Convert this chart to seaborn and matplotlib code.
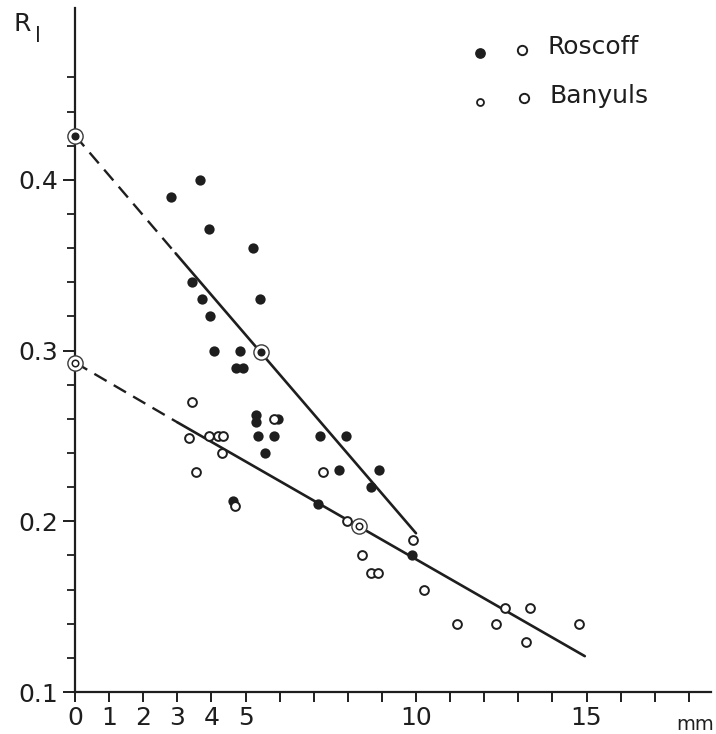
import matplotlib
matplotlib.use("Agg")
import matplotlib.pyplot as plt
import seaborn as sns
from matplotlib.ticker import FixedLocator, FixedFormatter

# ---------------- data ----------------
roscoff_x = [3.68, 2.82, 3.93, 5.21, 3.43, 3.73, 5.43, 3.95, 4.07, 4.85,
             4.72, 4.92, 5.31, 5.31, 5.94, 5.38, 5.84, 7.18, 7.95, 5.56,
             7.73, 8.92, 8.67, 4.64, 7.12, 9.88]
roscoff_y = [0.400, 0.390, 0.371, 0.360, 0.340, 0.330, 0.330, 0.320, 0.300, 0.300,
             0.290, 0.290, 0.262, 0.258, 0.260, 0.250, 0.250, 0.250, 0.250, 0.240,
             0.230, 0.230, 0.220, 0.212, 0.210, 0.180]

banyuls_x = [3.44, 5.84, 3.34, 3.92, 4.20, 4.35, 4.31, 3.56, 7.26, 4.70,
             7.97, 9.92, 8.43, 8.67, 8.90, 10.23, 12.62, 13.34, 11.21, 12.36,
             14.77, 13.24]
banyuls_y = [0.270, 0.260, 0.249, 0.250, 0.250, 0.250, 0.240, 0.229, 0.229, 0.209,
             0.200, 0.189, 0.180, 0.170, 0.170, 0.160, 0.149, 0.149, 0.140, 0.140,
             0.140, 0.129]

# circled reference points (intercept and mean of each group)
roscoff_ref_x = [0.0, 5.45]
roscoff_ref_y = [0.426, 0.299]
banyuls_ref_x = [0.0, 8.33]
banyuls_ref_y = [0.293, 0.197]

# fitted lines: first segment dashed (extrapolation), rest solid
roscoff_fit_x = [0.0, 2.95, 10.0]
roscoff_fit_y = [0.426, 0.357, 0.193]
banyuls_fit_x = [0.0, 3.0, 14.95]
banyuls_fit_y = [0.293, 0.258, 0.121]

x_tick_values = list(range(0, 19))
x_tick_labels = ["0", "1", "2", "3", "4", "5", "", "", "", "", "10",
                 "", "", "", "", "15", "", "", ""]
y_tick_values = [0.1, 0.2, 0.3, 0.4]
y_tick_labels = ["0.1", "0.2", "0.3", "0.4"]
y_minor_values = [0.12, 0.14, 0.16, 0.18, 0.22, 0.24, 0.26, 0.28,
                  0.32, 0.34, 0.36, 0.38, 0.42, 0.44, 0.46]

legend_labels = ["Roscoff", "Banyuls"]

# ---------------- style ----------------
sns.set_theme(style="ticks")
plt.rcParams['font.family'] = ['DejaVu Sans']
ink = "#1e1e1e"

fig = plt.figure(figsize=(7.16, 7.34), dpi=100)
W, H = 716, 734


def fx(px):
    return px / W


def fy(py):
    return 1 - py / H


left_px, right_px, bottom_px, top_px = 75, 711, 692, 8
px_per_mm, px_per_unit = 34.1, 1707.0
ax = fig.add_axes([fx(left_px), fy(bottom_px),
                   (right_px - left_px) / W, (bottom_px - top_px) / H])
ax.set_facecolor("white")
fig.patch.set_facecolor("white")

# lines
dash = (0, (6, 3.5))
sns.lineplot(x=roscoff_fit_x[:2], y=roscoff_fit_y[:2], ax=ax, color=ink,
             lw=1.7, linestyle=dash, sort=False)
sns.lineplot(x=roscoff_fit_x[1:], y=roscoff_fit_y[1:], ax=ax, color=ink,
             lw=1.9, sort=False)
sns.lineplot(x=banyuls_fit_x[:2], y=banyuls_fit_y[:2], ax=ax, color=ink,
             lw=1.7, linestyle=dash, sort=False)
sns.lineplot(x=banyuls_fit_x[1:], y=banyuls_fit_y[1:], ax=ax, color=ink,
             lw=1.9, sort=False)

# points
sns.scatterplot(x=roscoff_x, y=roscoff_y, ax=ax, marker="o", s=55,
                color=ink, edgecolor=ink, linewidth=0, zorder=4)
sns.scatterplot(x=banyuls_x, y=banyuls_y, ax=ax, marker="o", s=40,
                facecolor="white", edgecolor=ink, linewidth=1.4, zorder=4)

# circled reference points: outer ring + inner mark
for rx, ry in [(roscoff_ref_x, roscoff_ref_y), (banyuls_ref_x, banyuls_ref_y)]:
    sns.scatterplot(x=rx, y=ry, ax=ax, marker="o", s=120,
                    facecolor="white", edgecolor="#3a3a3a", linewidth=1.0,
                    zorder=5, clip_on=False)
sns.scatterplot(x=roscoff_ref_x, y=roscoff_ref_y, ax=ax, marker="o", s=34,
                color=ink, edgecolor=ink, linewidth=0, zorder=6, clip_on=False)
sns.scatterplot(x=banyuls_ref_x, y=banyuls_ref_y, ax=ax, marker="o", s=22,
                facecolor="white", edgecolor=ink, linewidth=1.1, zorder=6,
                clip_on=False)

# axes
ax.set_xlim(0, (right_px - left_px) / px_per_mm)
ax.set_ylim(0.1, 0.1 + (bottom_px - top_px) / px_per_unit)
for s in ["top", "right"]:
    ax.spines[s].set_visible(False)
for s in ["left", "bottom"]:
    ax.spines[s].set_color(ink)
    ax.spines[s].set_linewidth(1.6)

ax.xaxis.set_major_locator(FixedLocator(x_tick_values))
ax.xaxis.set_major_formatter(FixedFormatter(x_tick_labels))
ax.yaxis.set_major_locator(FixedLocator(y_tick_values))
ax.yaxis.set_major_formatter(FixedFormatter(y_tick_labels))
ax.yaxis.set_minor_locator(FixedLocator(y_minor_values))

ax.tick_params(axis="x", which="major", direction="out", length=7, width=1.4,
               color=ink, labelsize=18, labelcolor=ink, pad=3)
ax.tick_params(axis="y", which="major", direction="out", length=9, width=1.4,
               color=ink, labelsize=18, labelcolor=ink, pad=3)
ax.tick_params(axis="y", which="minor", direction="out", length=5.5, width=1.3,
               color=ink)
ax.set_xlabel("")
ax.set_ylabel("")

# unit label and y label
fig.text(fx(695), fy(724), "mm", ha="center", va="center",
         fontsize=14, color=ink)
fig.text(fx(13), fy(24), "R", ha="left", va="center", fontsize=18, color=ink)
fig.text(fx(35), fy(36), "l", ha="left", va="center", fontsize=15, color=ink)

# legend (manual, as in the original), placed in figure coordinates
tf = fig.transFigure
ax.scatter([fx(480)], [fy(53)], transform=tf, s=45, color=ink, clip_on=False)
ax.scatter([fx(522)], [fy(50)], transform=tf, s=45, facecolor="white",
           edgecolor=ink, linewidth=1.4, clip_on=False)
fig.text(fx(547), fy(47), legend_labels[0], ha="left", va="center",
         fontsize=18, color=ink)
ax.scatter([fx(480)], [fy(102)], transform=tf, s=25, facecolor="white",
           edgecolor=ink, linewidth=1.3, clip_on=False)
ax.scatter([fx(524)], [fy(98)], transform=tf, s=45, facecolor="white",
           edgecolor=ink, linewidth=1.4, clip_on=False)
fig.text(fx(549), fy(96), legend_labels[1], ha="left", va="center",
         fontsize=18, color=ink)

fig.savefig("out.png", dpi=100, facecolor="white")
